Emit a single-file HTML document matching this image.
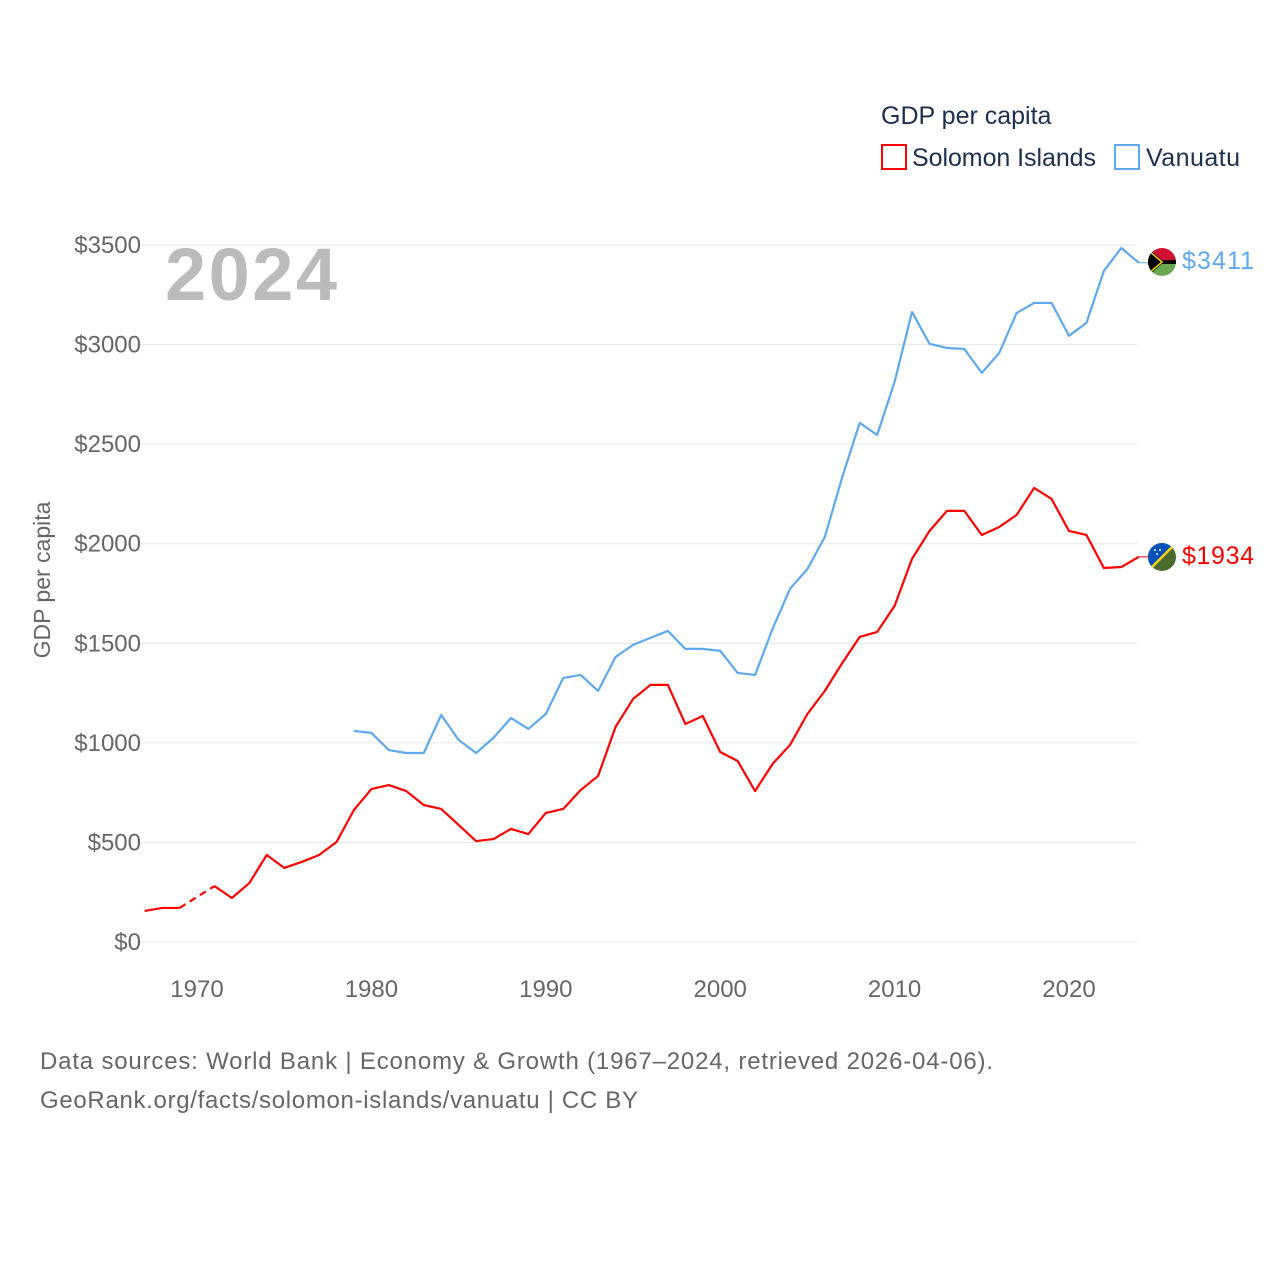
<!DOCTYPE html>
<html><head><meta charset="utf-8">
<style>
body{margin:0;background:#fff;}
svg{display:block;font-family:"Liberation Sans",sans-serif;}
</style></head>
<body>
<svg id="chart" width="1280" height="1280" viewBox="0 0 1280 1280">
  <text x="881" y="124" font-size="25" fill="#1d2f4f">GDP per capita</text>
  <g>
    <rect x="882" y="145" width="24" height="24" fill="none" stroke="#ff0000" stroke-width="2"/>
    <text x="912" y="166" font-size="25" fill="#1d2f4f" textLength="184">Solomon Islands</text>
  </g>
  <g>
    <rect x="1115" y="145" width="24" height="24" fill="none" stroke="#5fa8ee" stroke-width="2"/>
    <text x="1146" y="166" font-size="25" fill="#1d2f4f" textLength="94">Vanuatu</text>
  </g>
  <g id="grid"></g>
  <g id="xaxis"></g>
  <text x="165" y="300" font-size="74" font-weight="bold" fill="#bbbbbb" textLength="172">2024</text>
  <text transform="translate(50,580) rotate(-90)" text-anchor="middle" font-size="23" fill="#666">GDP per capita</text>
  <g id="series"></g>
  <g>
    <clipPath id="cv"><circle cx="1162" cy="262" r="14"/></clipPath>
    <g clip-path="url(#cv)">
      <rect x="1148" y="248" width="28" height="14" fill="#d21034"/>
      <rect x="1148" y="262" width="28" height="14" fill="#6aa84f"/>
      <rect x="1148" y="260" width="28" height="4" fill="#000"/>
      <polygon points="1148,248 1164,262 1148,276" fill="#000"/>
      <polyline points="1148,250 1162,262 1148,274" fill="none" stroke="#fdce12" stroke-width="1.5"/>
    </g>
  </g>
  <g>
    <clipPath id="cs"><circle cx="1162" cy="557" r="14"/></clipPath>
    <g clip-path="url(#cs)">
      <rect x="1148" y="543" width="28" height="28" fill="#4a6b2c"/>
      <polygon points="1148,543 1176,543 1148,571" fill="#0051ba"/>
      <line x1="1176" y1="543" x2="1148" y2="571" stroke="#fcd116" stroke-width="2.5"/>
      <circle cx="1155" cy="550" r="1" fill="#fff"/><circle cx="1160" cy="550" r="1" fill="#fff"/><circle cx="1157" cy="554" r="1" fill="#fff"/>
    </g>
  </g>
  <text x="1182" y="269" font-size="25" fill="#5fa8ee" textLength="72">$3411</text>
  <text x="1182" y="564" font-size="25" fill="#ff0000" textLength="72">$1934</text>
  <text x="40" y="1069" font-size="24" fill="#666" textLength="953">Data sources: World Bank | Economy &amp; Growth (1967–2024, retrieved 2026-04-06).</text>
  <text x="40" y="1108" font-size="24" fill="#666" textLength="598">GeoRank.org/facts/solomon-islands/vanuatu | CC BY</text>
</svg>
<script>
const yTicks = [0,500,1000,1500,2000,2500,3000,3500];
const xTicks = [1970,1980,1990,2000,2010,2020];
const solomonYears = [1967,1968,1969,1970,1971,1972,1973,1974,1975,1976,1977,1978,1979,1980,1981,1982,1983,1984,1985,1986,1987,1988,1989,1990,1991,1992,1993,1994,1995,1996,1997,1998,1999,2000,2001,2002,2003,2004,2005,2006,2007,2008,2009,2010,2011,2012,2013,2014,2015,2016,2017,2018,2019,2020,2021,2022,2023,2024];
const solomonValues = [156,171,171,null,281,221,296,437,372,402,437,502,663,768,788,758,688,668,588,507,517,568,542,648,668,763,834,1080,1220,1291,1291,1095,1135,954,909,758,894,989,1145,1261,1401,1532,1557,1688,1924,2064,2165,2165,2044,2084,2145,2280,2225,2064,2044,1878,1883,1934];
const vanuatuYears = [1979,1980,1981,1982,1983,1984,1985,1986,1987,1988,1989,1990,1991,1992,1993,1994,1995,1996,1997,1998,1999,2000,2001,2002,2003,2004,2005,2006,2007,2008,2009,2010,2011,2012,2013,2014,2015,2016,2017,2018,2019,2020,2021,2022,2023,2024];
const vanuatuValues = [1060,1050,964,949,949,1140,1015,949,1025,1125,1070,1145,1326,1341,1261,1431,1492,1527,1562,1472,1472,1462,1351,1341,1572,1773,1873,2034,2335,2607,2546,2813,3164,3004,2983,2978,2858,2958,3159,3209,3209,3044,3109,3370,3485,3411];

const NS='http://www.w3.org/2000/svg';
const X = yr => 197 + (yr-1970)*17.44;
const Y = v => 942 - v*0.19914;
function mk(tag, attrs, parent){const e=document.createElementNS(NS,tag);for(const k in attrs)e.setAttribute(k,attrs[k]);parent.appendChild(e);return e;}
const grid=document.getElementById('grid');
yTicks.forEach(t=>{
  const l=mk('line',{x1:140,x2:1137,y1:Y(t),y2:Y(t),stroke:'#e6e6e6','stroke-width':1},grid);
  
  
  const tx=mk('text',{x:141,y:Y(t)+8,'text-anchor':'end','font-size':24,fill:'#666'},grid);
  tx.textContent='$'+t;
  
  
});
const xa=document.getElementById('xaxis');
xTicks.forEach(t=>{
  const tx=mk('text',{x:X(t),y:997,'text-anchor':'middle','font-size':24,fill:'#666'},xa);
  tx.textContent=t;
  
  
});
const sg=document.getElementById('series');
function draw(years, vals, color, name){
  let segs=[],cur=[],gaps=[];
  for(let i=0;i<years.length;i++){
    if(vals[i]==null){ if(cur.length)segs.push(cur); cur=[];
      let a=i-1,b=i+1; while(b<vals.length&&vals[b]==null)b++;
      if(a>=0&&b<vals.length)gaps.push([[X(years[a]),Y(vals[a])],[X(years[b]),Y(vals[b])]]);
      continue;}
    cur.push([X(years[i]),Y(vals[i])]);
  }
  if(cur.length)segs.push(cur);
  segs.forEach(s=>{
    const p=mk('polyline',{points:s.map(q=>q.join(',')).join(' '),fill:'none',stroke:color,'stroke-width':2.2,'stroke-linejoin':'round'},sg);
    
    
  });
  gaps.forEach(g=>{
    const p=mk('line',{x1:g[0][0],y1:g[0][1],x2:g[1][0],y2:g[1][1],stroke:color,'stroke-width':2.2,'stroke-dasharray':'7,5'},sg);
    
    
  });
  const last=[X(years[years.length-1]),Y(vals[vals.length-1])];
  const st=mk('line',{x1:last[0],y1:last[1],x2:1148,y2:last[1],stroke:color,'stroke-width':1},sg);
  
  
}
draw(solomonYears, solomonValues, '#ff0000', 'solomon-islands');
draw(vanuatuYears, vanuatuValues, '#5fa8ee', 'vanuatu');
</script>
</body></html>
